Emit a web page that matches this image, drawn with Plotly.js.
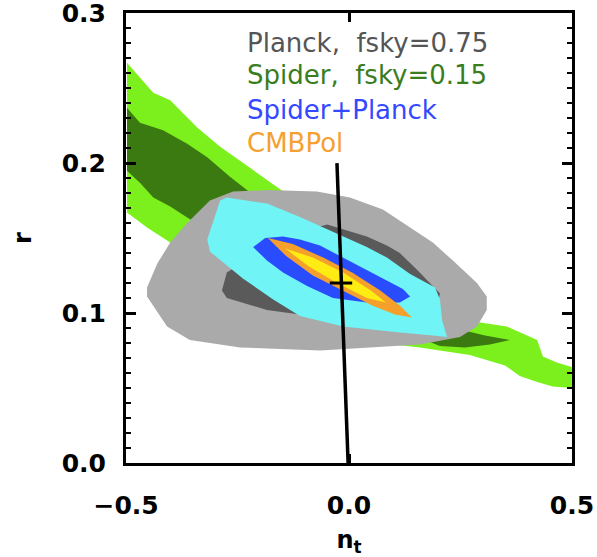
<!DOCTYPE html>
<html>
<head>
<meta charset="utf-8">
<script src="https://cdn.plot.ly/plotly-3.0.1.min.js"></script>
<style>html,body{margin:0;padding:0;background:#fff;}#chart{width:597px;height:557px;}</style>
</head>
<body>
<div id="chart"></div>
<script>
// Spider 2-sigma (light green) contour boundary
const spider2X = [-0.498,-0.439,-0.401,-0.341,-0.289,-0.238,-0.161,0.070,0.287,0.354,0.422,0.435,0.466,0.500,
                  0.500,0.457,0.422,0.383,0.350,0.271,0.159,0.070,-0.222,-0.401,-0.453,-0.498];
const spider2Y = [0.267,0.247,0.242,0.224,0.211,0.200,0.184,0.139,0.094,0.091,0.082,0.071,0.067,0.064,
                  0.050,0.051,0.054,0.058,0.065,0.072,0.077,0.080,0.115,0.147,0.157,0.167];
// Spider 1-sigma (dark green)
const spider1X = [-0.498,-0.469,-0.417,-0.363,-0.318,-0.267,-0.229,0.002,0.249,0.305,0.361,
                  0.316,0.260,0.204,-0.110,-0.352,-0.401,-0.439,-0.469,-0.498];
const spider1Y = [0.237,0.227,0.222,0.213,0.204,0.191,0.182,0.129,0.089,0.085,0.082,
                  0.079,0.077,0.078,0.115,0.162,0.171,0.177,0.187,0.195];
// Planck 2-sigma (light grey)
const planck2X = [-0.453,-0.453,-0.430,-0.401,-0.363,-0.312,-0.260,-0.184,-0.072,0.002,0.076,0.137,0.188,0.233,0.287,0.309,
                  0.309,0.287,0.249,0.159,-0.065,-0.244,-0.357,-0.408];
const planck2Y = [0.111,0.117,0.133,0.147,0.160,0.175,0.181,0.182,0.181,0.177,0.169,0.157,0.147,0.135,0.120,0.111,
                  0.102,0.091,0.084,0.079,0.075,0.077,0.082,0.091];
// Planck 1-sigma (dark grey)
const planck1X = [-0.285,-0.274,-0.222,-0.110,-0.049,0.040,0.085,0.114,0.152,0.204,0.193,0.070,-0.036,-0.110,-0.184,-0.274];
const planck1Y = [0.115,0.127,0.137,0.154,0.159,0.151,0.145,0.140,0.129,0.113,0.099,0.092,0.095,0.099,0.102,0.110];
// Spider+Planck 2-sigma (cyan)
const combo2X = [-0.318,-0.289,-0.274,-0.184,-0.110,-0.036,0.040,0.085,0.137,0.193,0.204,0.209,0.220,
                 0.188,0.114,-0.013,-0.110,-0.170,-0.238,-0.312];
const combo2Y = [0.149,0.175,0.177,0.173,0.164,0.154,0.144,0.137,0.126,0.117,0.109,0.095,0.084,
                 0.085,0.087,0.091,0.098,0.109,0.123,0.141];
// Spider+Planck 1-sigma (blue)
const combo1X = [-0.215,-0.188,-0.148,-0.110,-0.065,-0.020,0.025,0.076,0.121,0.137,0.114,0.040,-0.036,-0.094,-0.148,-0.184];
const combo1Y = [0.144,0.150,0.151,0.149,0.145,0.138,0.131,0.123,0.116,0.111,0.107,0.107,0.110,0.118,0.127,0.135];
// CMBPol 2-sigma (orange)
const cmb2X = [-0.182,-0.126,-0.058,0.007,0.070,0.114,0.141,0.103,0.052,-0.016,-0.081,-0.141];
const cmb2Y = [0.150,0.146,0.137,0.127,0.115,0.105,0.097,0.099,0.105,0.115,0.125,0.138];
// CMBPol 1-sigma (yellow)
const cmb1X = [-0.143,-0.081,-0.013,0.049,0.083,0.040,-0.027,-0.090];
const cmb1Y = [0.143,0.137,0.127,0.115,0.107,0.110,0.120,0.131];
// consistency relation line and fiducial point
const lineX = [-0.027,-0.002];
const lineY = [0.200,0.000];
const fidX = [-0.018];
const fidY = [0.120];
// axis ticks
const xTickVals = [-0.5,0,0.5];
const xTickText = ['\u22120.5','0.0','0.5'];
const yTickVals = [0,0.1,0.2,0.3];
const yTickText = ['0.0','0.1','0.2','0.3'];
// legend labels
const labels = ["Planck,  fsky=0.75","Spider,  fsky=0.15","Spider+Planck","CMBPol"];
const labelColors = ["#555555","#3a7d1e","#3448ff","#f5a030"];
const labelY = [0.280,0.2587,0.2353,0.2133];

function region(x,y,color){
  return {x:x,y:y,type:'scatter',mode:'lines',fill:'toself',fillcolor:color,
          line:{width:0,color:color},hoverinfo:'skip'};
}
const data = [
  region(spider2X,spider2Y,'#7cf01c'),
  region(spider1X,spider1Y,'#3b7a10'),
  region(planck2X,planck2Y,'#aaaaaa'),
  region(planck1X,planck1Y,'#5a5a5a'),
  region(combo2X,combo2Y,'#70f4f6'),
  region(combo1X,combo1Y,'#2a4cff'),
  region(cmb2X,cmb2Y,'#f5a02a'),
  region(cmb1X,cmb1Y,'#ffec12'),
  {x:lineX,y:lineY,type:'scatter',mode:'lines',line:{color:'#000',width:3.5},hoverinfo:'skip'},
  {x:fidX,y:fidY,type:'scatter',mode:'markers',marker:{symbol:'line-ew',size:16,line:{color:'#000',width:3}},hoverinfo:'skip'}
];
const annotations = labels.map((t,i)=>({
  text:t, x:-0.233, y:labelY[i], xref:'x', yref:'y', xanchor:'left', yanchor:'middle',
  showarrow:false, font:{family:'DejaVu Sans',size:26,color:labelColors[i]}
}));
const tickFont = {family:'DejaVu Sans',size:25,color:'#000',weight:'bold'};
const layout = {
  width:597,height:557,
  margin:{l:126,r:25,t:13,b:94},
  paper_bgcolor:'#fff',plot_bgcolor:'#fff',
  showlegend:false,hovermode:false,
  xaxis:{range:[-0.5002,0.5002],tickvals:xTickVals,ticktext:xTickText,ticklabeloverflow:'allow',
         showgrid:false,zeroline:false,showline:true,linecolor:'#000',linewidth:3,mirror:'ticks',
         ticks:'inside',ticklen:9,tickwidth:3,tickcolor:'#000',tickfont:tickFont,ticklabelstandoff:18,
         title:{text:'n<sub>t</sub>',font:{family:'DejaVu Sans',size:24,color:'#000',weight:'bold'},standoff:14}},
  yaxis:{range:[-0.0001,0.3002],tickvals:yTickVals,ticktext:yTickText,ticklabeloverflow:'allow',
         showgrid:false,zeroline:false,showline:true,linecolor:'#000',linewidth:3,mirror:'ticks',
         ticks:'inside',ticklen:10,tickwidth:3,tickcolor:'#000',tickfont:tickFont,ticklabelstandoff:12,
         minor:{dtick:0.01,ticks:'inside',ticklen:5,tickwidth:2,tickcolor:'#000',showgrid:false},
         title:{text:'r',font:{family:'DejaVu Sans',size:24,color:'#000',weight:'bold'},standoff:24}},
  annotations:annotations
};
Plotly.newPlot('chart',data,layout,{staticPlot:true,displayModeBar:false});
</script>
</body>
</html>
